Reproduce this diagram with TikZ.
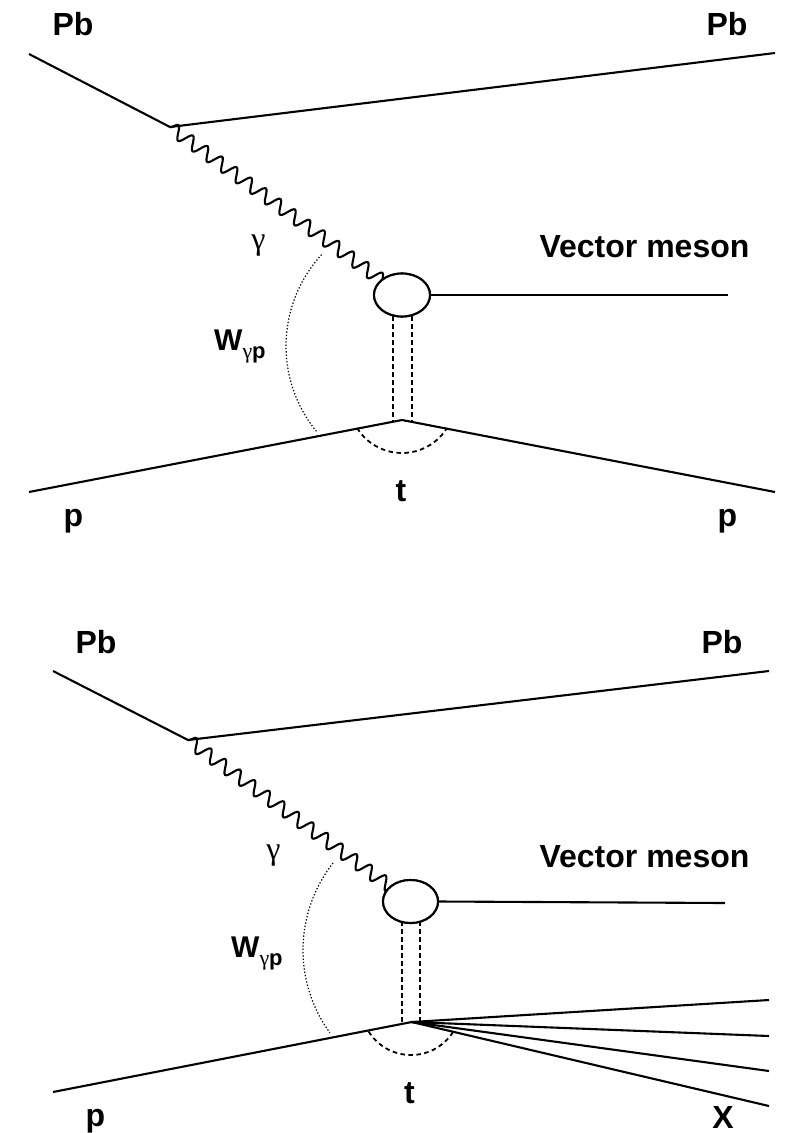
\documentclass[tikz,border=0pt]{standalone}
\usepackage{fontspec}
\setmainfont{Liberation Sans}
\newfontfamily\gfont{Liberation Serif}
\usetikzlibrary{decorations.pathmorphing,shapes.geometric,calc}
\begin{document}
\begin{tikzpicture}[x=1pt,y=1pt,
  leg/.style={line width=2.1pt},
  photon/.style={line width=2.1pt, decorate, decoration={snake, amplitude=6.5pt, segment length=18pt}},
  pomeron/.style={line width=1.8pt, dash pattern=on 5pt off 3pt},
  tarc/.style={line width=1.8pt, dash pattern=on 4.5pt off 3.5pt},
  warc/.style={line width=1.2pt, dash pattern=on 1.3pt off 2pt},
  blob/.style={draw, line width=2.1pt, fill=white, ellipse, inner sep=0pt, minimum width=56pt, minimum height=43pt},
  lbl/.style={font=\fontsize{32}{38}\selectfont\bfseries, inner sep=0pt, anchor=base},
  glbl/.style={font=\fontsize{32}{38}\selectfont\gfont, inner sep=0pt, anchor=base},
  wlbl/.style={font=\fontsize{30}{35}\selectfont\bfseries, inner sep=0pt, anchor=base west}]
\useasboundingbox (0,0) rectangle (786,-1133);

% ---------------- top diagram ----------------
\coordinate (PbInA) at (29,-54);
\coordinate (VA) at (170,-127);
\coordinate (PbOutA) at (775,-53);
\coordinate (pInA) at (29,-492);
\coordinate (TA) at (402,-420);
\coordinate (pOutA) at (775,-492);
\coordinate (VMA) at (728,-295);
\coordinate (PmA1t) at (393,-300);
\coordinate (PmA1b) at (393,-421.5);
\coordinate (PmA2t) at (412,-300);
\coordinate (PmA2b) at (412,-421.5);
\coordinate (WcA) at (421,-346);
\coordinate (TcA) at (402,-400);

\draw[leg] (PbInA) -- (VA) -- (PbOutA);
\draw[leg] (pInA) -- (TA) -- (pOutA);
\draw[pomeron] (PmA1t) -- (PmA1b);
\draw[pomeron] (PmA2t) -- (PmA2b);
\node[blob] (blobA) at (402,-295) {};
\draw[photon] (VA) -- ($(VA)!0.93!(blobA.center)$);
\node[blob] at (blobA.center) {};
\draw[leg] (blobA.east) -- (VMA);
\draw[warc] ($(WcA)+(137.4:135)$) arc[start angle=137.4, end angle=219.6, radius=135];
\draw[tarc] ($(TcA)+(212:53)$) arc[start angle=212, end angle=328, radius=53];

\node[lbl] (PbA1) at (73,-35) {Pb};
\node[lbl] (PbA2) at (727,-35) {Pb};
\node[lbl] (VMlA) at (644.5,-257) {Vector meson};
\node[glbl] (gA) at (258.5,-249) {γ};
\node[wlbl] (WA) at (214,-350) {W\raisebox{-8pt}{\fontsize{22}{26}\selectfont{\gfont\mdseries γ}p}};
\node[lbl] (tA) at (401,-501) {t};
\node[lbl] (pA1) at (73.5,-526) {p};
\node[lbl] (pA2) at (727.5,-526) {p};

% ---------------- bottom diagram ----------------
\coordinate (PbInB) at (53,-671);
\coordinate (VB) at (188,-740);
\coordinate (PbOutB) at (769,-671);
\coordinate (pInB) at (53,-1092);
\coordinate (TB) at (411.7,-1022);
\coordinate (X1) at (769,-1000);
\coordinate (X2) at (769,-1036);
\coordinate (X3) at (769,-1071);
\coordinate (X4) at (769,-1106);
\coordinate (VMB) at (725,-903);
\coordinate (PmB1t) at (402,-905);
\coordinate (PmB1b) at (402,-1023.5);
\coordinate (PmB2t) at (420,-905);
\coordinate (PmB2b) at (420,-1022.5);
\coordinate (WcB) at (444,-950);
\coordinate (TcB) at (411,-1005);

\draw[leg] (PbInB) -- (VB) -- (PbOutB);
\draw[leg] (pInB) -- (TB);
\draw[leg] (TB) -- (X1);
\draw[leg] (TB) -- (X2);
\draw[leg] (TB) -- (X3);
\draw[leg] (TB) -- (X4);
\draw[pomeron] (PmB1t) -- (PmB1b);
\draw[pomeron] (PmB2t) -- (PmB2b);
\node[blob, minimum width=55pt] (blobB) at (410.5,-901.5) {};
\draw[photon] (VB) -- ($(VB)!0.93!(blobB.center)$);
\node[blob, minimum width=55pt] at (blobB.center) {};
\draw[leg] (blobB.east) -- (VMB);
\draw[warc] ($(WcB)+(141.9:141)$) arc[start angle=141.9, end angle=216, radius=141];
\draw[tarc] ($(TcB)+(212:50)$) arc[start angle=212, end angle=327, radius=50];

\node[lbl] (PbB1) at (96,-653) {Pb};
\node[lbl] (PbB2) at (722,-653) {Pb};
\node[lbl] (VMlB) at (644.5,-867) {Vector meson};
\node[glbl] (gB) at (273.5,-859) {γ};
\node[wlbl] (WB) at (231,-957) {W\raisebox{-8pt}{\fontsize{22}{26}\selectfont{\gfont\mdseries γ}p}};
\node[lbl] (tB) at (409.5,-1103) {t};
\node[lbl] (pB) at (95.5,-1126) {p};
\node[lbl] (XB) at (723,-1128) {X};
\end{tikzpicture}
\end{document}
